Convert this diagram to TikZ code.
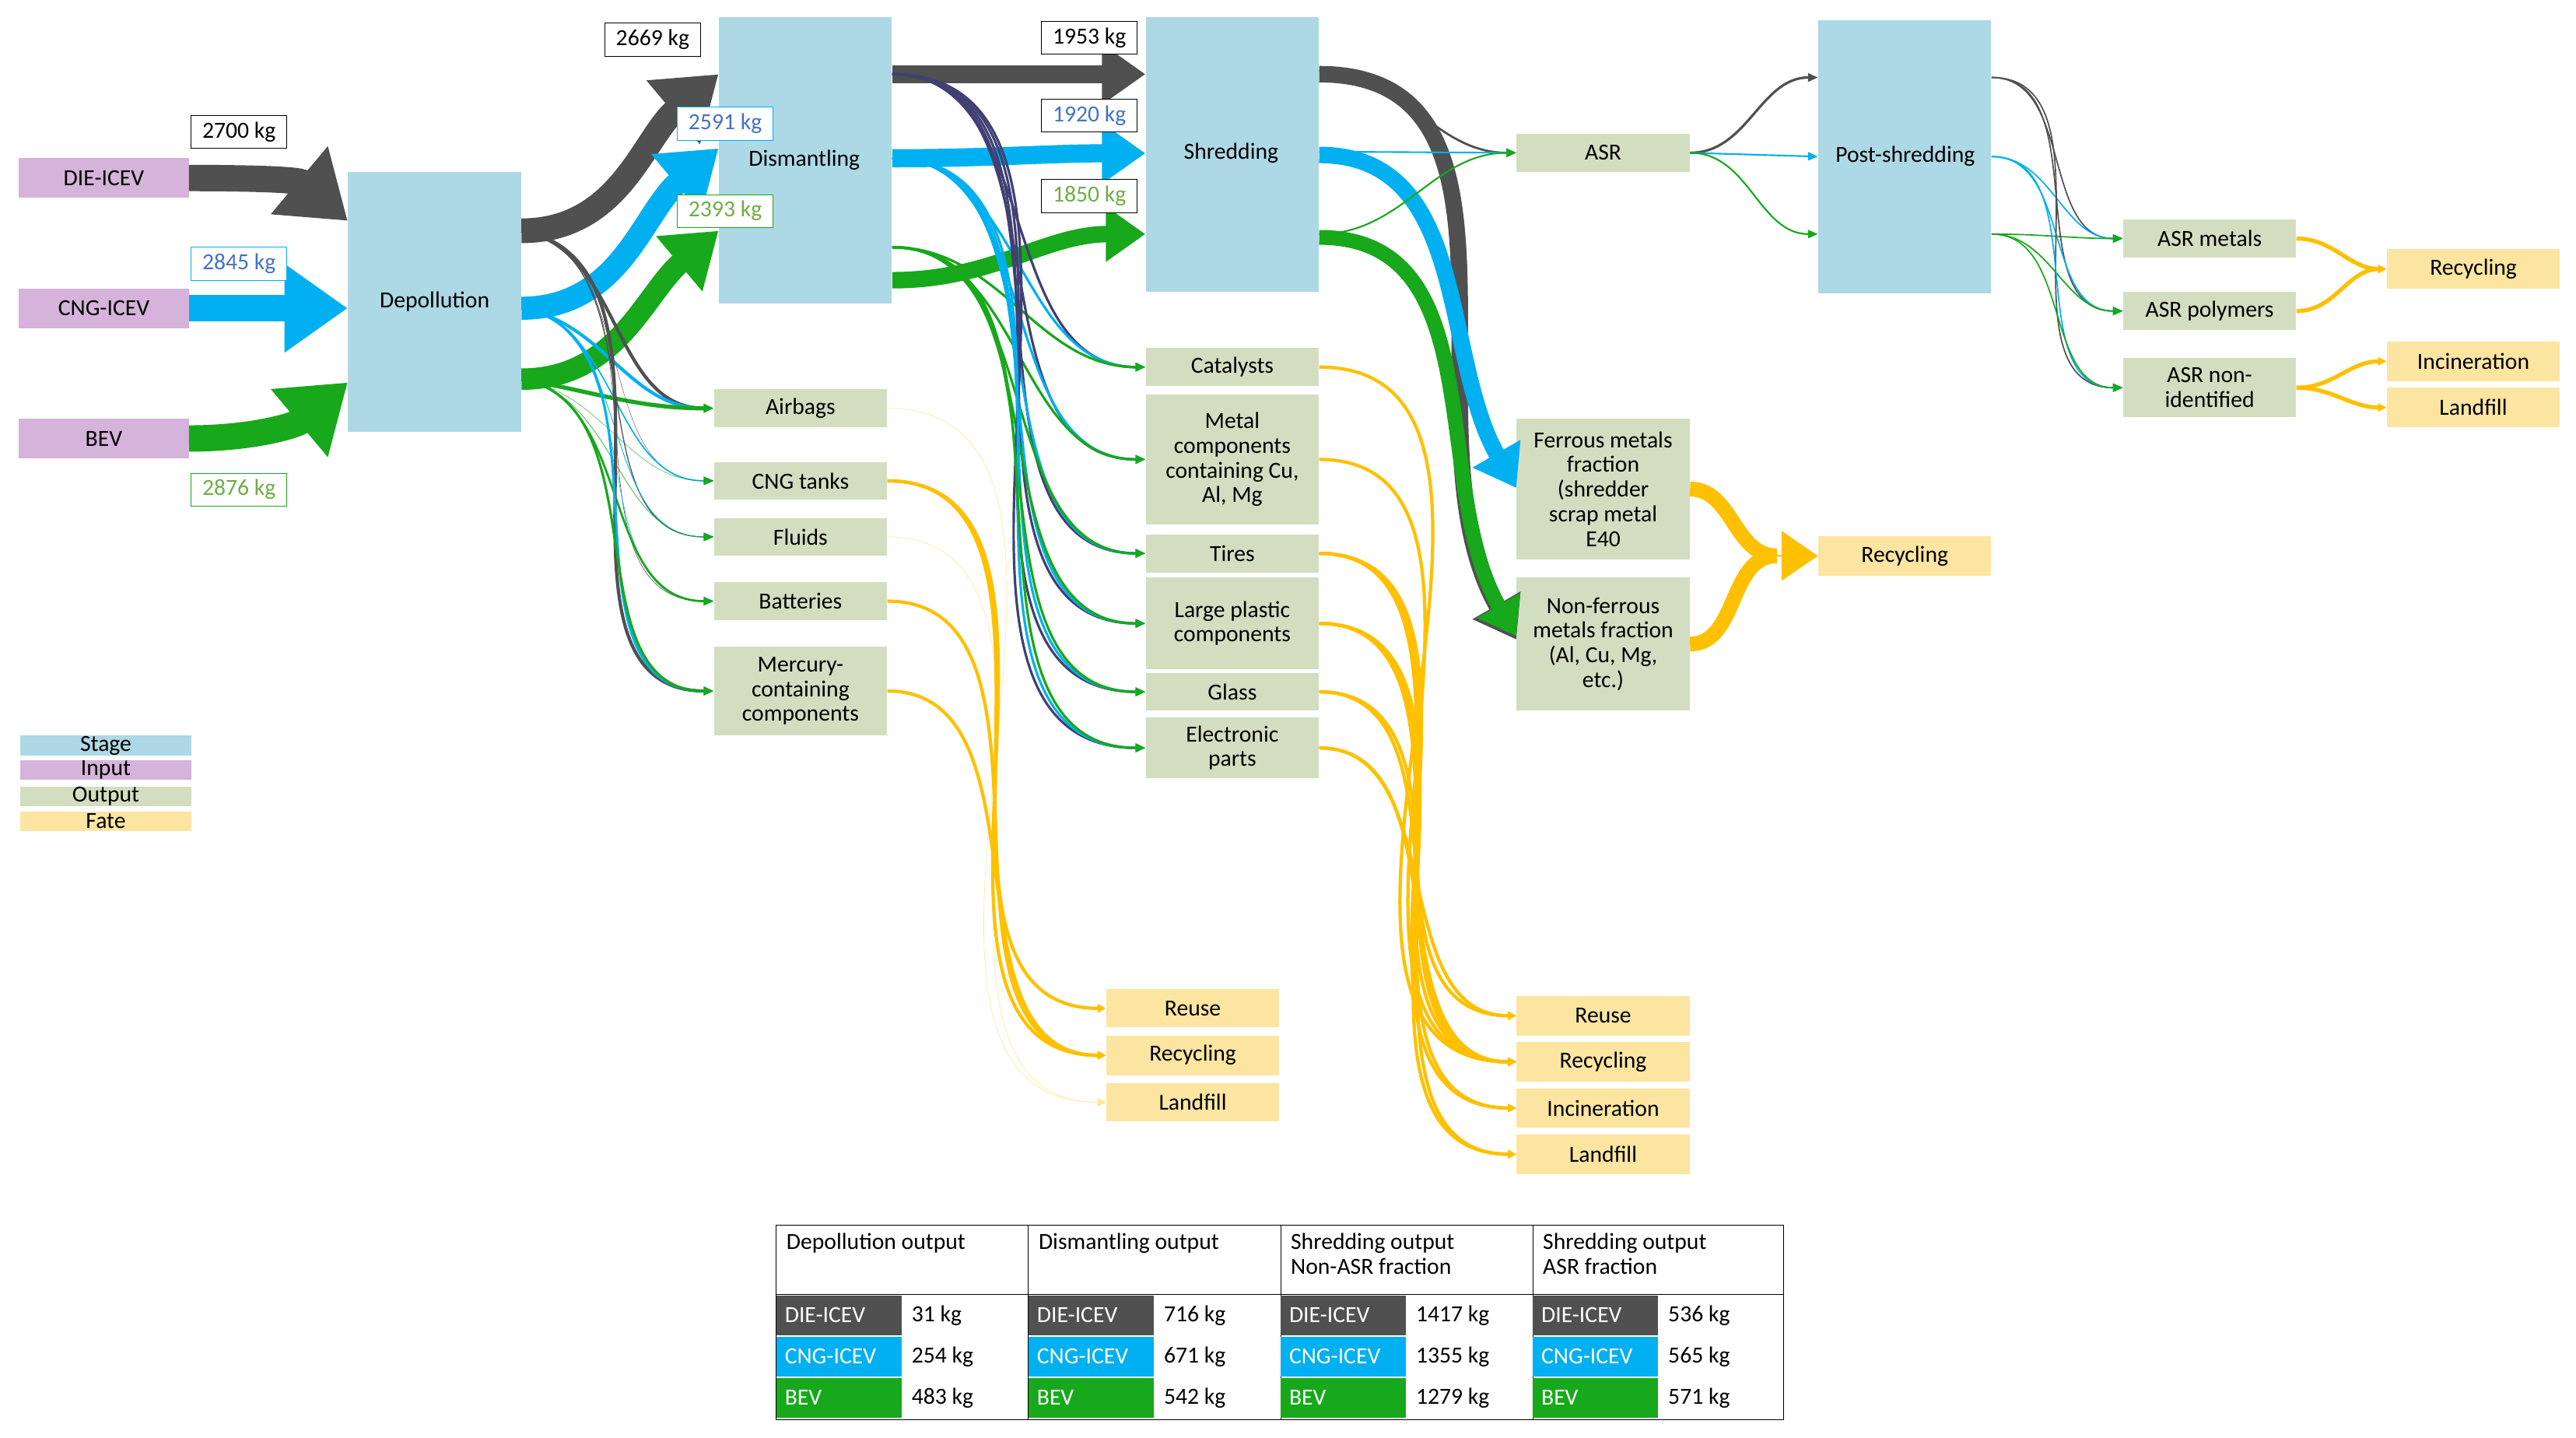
\documentclass[tikz,border=0pt]{standalone}
\usepackage{fontspec}
\setmainfont{Carlito}
\usetikzlibrary{arrows.meta}
\definecolor{cg}{HTML}{505050}
\definecolor{cb}{HTML}{00B0F0}
\definecolor{cgr}{HTML}{17A81B}
\definecolor{cy}{HTML}{FFC000}
\definecolor{stage}{HTML}{ADD8E6}
\definecolor{inp}{HTML}{D5B3DA}
\definecolor{outp}{HTML}{D3DEC0}
\definecolor{fate}{HTML}{FBE5A0}
\definecolor{tblue}{HTML}{4472C4}
\definecolor{tgreen}{HTML}{70AD47}
\begin{document}
\begin{tikzpicture}[x=1pt,y=-1pt,
  every node/.style={font=\fontsize{14}{15}\selectfont, inner sep=0pt, align=center},
  st/.style={fill=stage, minimum width=105, anchor=north west},
  ip/.style={fill=inp, minimum width=103, minimum height=24},
  ou/.style={fill=outp, minimum width=105, anchor=north west},
  fa/.style={fill=fate, minimum width=105, anchor=north west},
  lab/.style={draw, fill=white, minimum width=58, minimum height=20},
  big/.style={line width=#1, -{Triangle[length=2.4*#1, width=3.2*#1]}},
  th/.style={line width=#1, -{Triangle[length=6, width=5]}},
  yl/.style={cy, line width=#1, -{Triangle[length=5, width=5]}},
]
\useasboundingbox (0,0) rectangle (1563,872);
% stages
\node[st, minimum height=158] (dep) at (211,104) {Depollution};
\node[st, minimum height=174] (dis) at (436,10) {};
\node at (488,97) {Dismantling};
\node[st, minimum height=167] (shr) at (695,10) {};
\node at (747,93) {Shredding};
\node[st, minimum height=166] (post) at (1103,12) {};
\node at (1156,95) {Post-shredding};
% inputs
\node[ip] (die) at (63,108) {DIE-ICEV};
\node[ip] (cng) at (63,187) {CNG-ICEV};
\node[ip] (bev) at (63,266) {BEV};
% outputs
\node[ou, minimum height=23] (asr) at (920,81) {ASR};
\node[ou, minimum height=85] (fer) at (920,254) {Ferrous metals\\fraction\\(shredder\\scrap metal\\E40};
\node[ou, minimum height=81] (nfe) at (920,350) {Non-ferrous\\metals fraction\\(Al, Cu, Mg,\\etc.)};
\node[fa, minimum height=24] (recm) at (1103,325) {Recycling};
\node[ou, minimum height=23] (asrm) at (1288,133) {ASR metals};
\node[ou, minimum height=23] (asrp) at (1288,177) {ASR polymers};
\node[ou, minimum height=36] (asrn) at (1288,217) {ASR non-\\identified};
\node[fa, minimum height=24] (recr) at (1448,151) {Recycling};
\node[fa, minimum height=24] (incr) at (1448,207) {Incineration};
\node[fa, minimum height=24] (lanr) at (1448,235) {Landfill};
\node[ou, minimum height=23] (air) at (433,236) {Airbags};
\node[ou, minimum height=23] (tank) at (433,280) {CNG tanks};
\node[ou, minimum height=23] (flu) at (433,314) {Fluids};
\node[ou, minimum height=23] (bat) at (433,353) {Batteries};
\node[ou, minimum height=54] (mer) at (433,392) {Mercury-\\containing\\components};
\node[ou, minimum height=23] (cat) at (695,211) {Catalysts};
\node[ou, minimum height=79] (met) at (695,239) {Metal\\components\\containing Cu,\\Al, Mg};
\node[ou, minimum height=23] (tir) at (695,324) {Tires};
\node[ou, minimum height=56] (lpc) at (695,350) {Large plastic\\components};
\node[ou, minimum height=23] (gla) at (695,408) {Glass};
\node[ou, minimum height=37] (ele) at (695,435) {Electronic\\parts};
\node[fa, minimum height=23] (reuA) at (671,600) {Reuse};
\node[fa, minimum height=24] (recA) at (671,628) {Recycling};
\node[fa, minimum height=23] (lanA) at (671,657) {Landfill};
\node[fa, minimum height=24] (reuB) at (920,604) {Reuse};
\node[fa, minimum height=24] (recB) at (920,632) {Recycling};
\node[fa, minimum height=24] (incB) at (920,660) {Incineration};
\node[fa, minimum height=24] (lanB) at (920,688) {Landfill};
% legend
\node[fill=stage, minimum width=104, minimum height=12, anchor=north west] (lg1) at (12,446) {Stage};
\node[fill=inp, minimum width=104, minimum height=12, anchor=north west] (lg2) at (12,461) {Input};
\node[fill=outp, minimum width=104, minimum height=12, anchor=north west] (lg3) at (12,477) {Output};
\node[fill=fate, minimum width=104, minimum height=12, anchor=north west] (lg4) at (12,492) {Fate};
% big input arrows
\draw[cg, big=16] (die.east) to[out=0,in=140] ([yshift=-30]dep.north west);
\draw[cb, big=16] (cng.east) -- ([yshift=-83]dep.north west);
\draw[cgr, big=16] (bev.east) to[out=0,in=-140] ([yshift=-128]dep.north west);
% depollution -> dismantling
\draw[cg, big=15] ([yshift=-36]dep.north east) to[out=0,in=-140] ([yshift=-35]dis.north west);
\draw[cb, big=14] ([yshift=-83]dep.north east) to[out=0,in=-140] ([yshift=-80]dis.north west);
\draw[cgr, big=13] ([yshift=-126]dep.north east) to[out=0,in=-140] ([yshift=-130]dis.north west);
% dismantling -> shredding
\draw[cg, big=11] ([yshift=-35]dis.north east) -- ([yshift=-35]shr.north west);
\draw[cb, big=11] ([yshift=-86]dis.north east) to[out=0,in=180] ([yshift=-83]shr.north west);
\draw[cgr, big=10] ([yshift=-160]dis.north east) to[out=0,in=180] ([yshift=-132]shr.north west);
% shredding -> fractions
\draw[cg, big=10] ([yshift=-35]shr.north east) to[out=0,in=120] ([yshift=-38]nfe.north west);
\draw[cb, big=10] ([yshift=-84]shr.north east) to[out=0,in=120] ([yshift=-42]fer.north west);
\draw[cgr, big=9] ([yshift=-134]shr.north east) to[out=0,in=120] ([yshift=-36]nfe.north west);
\draw[cg, th=1.3] ([yshift=-33]shr.north east) to[out=0,in=180] (asr.west);
\draw[cb, th=1] ([yshift=-82]shr.north east) -- (asr.west);
\draw[cgr, th=1] ([yshift=-132]shr.north east) to[out=0,in=180] (asr.west);
% ASR -> post
\draw[cg, th=1.5] (asr.east) to[out=0,in=180] ([yshift=-35]post.north west);
\draw[cb, th=1] (asr.east) -- ([yshift=-83]post.north west);
\draw[cgr, th=1] (asr.east) to[out=0,in=180] ([yshift=-130]post.north west);
% post -> ASR outputs
\foreach \t in {asrm,asrp,asrn}{
  \draw[cg, th=0.8] ([yshift=-35]post.north east) to[out=0,in=180] (\t.west);
  \draw[cb, th=0.8] ([yshift=-83]post.north east) to[out=0,in=180] (\t.west);
  \draw[cgr, th=0.8] ([yshift=-130]post.north east) to[out=0,in=180] (\t.west);
}
\draw[yl=2.5] (asrm.east) to[out=0,in=180] (recr.west);
\draw[yl=2.5] (asrp.east) to[out=0,in=180] (recr.west);
\draw[yl=2.5] (asrn.east) to[out=0,in=180] (incr.west);
\draw[yl=2.5] (asrn.east) to[out=0,in=180] (lanr.west);
\draw[cy, line width=9] (fer.east) to[out=0,in=180] ([xshift=-25]recm.west);
\draw[cy, line width=9] (nfe.east) to[out=0,in=180] ([xshift=-25]recm.west);
\draw[cy, line width=1, -{Triangle[length=22,width=30]}] ([xshift=-26]recm.west) -- (recm.west);
% depollution -> outputs
\foreach \t/\a/\b/\c in {air/2/2/2.5, tank/0.2/0.8/0.2, flu/0.6/0.4/0.3, bat/0.3/0.3/1.3, mer/2/1.5/1.5}{
  \draw[cg, th=\a] ([yshift=-36]dep.north east) to[out=-10,in=180] (\t.west);
  \draw[cb, th=\b] ([yshift=-83]dep.north east) to[out=-10,in=180] (\t.west);
  \draw[cgr, th=\c] ([yshift=-126]dep.north east) to[out=-10,in=180] (\t.west);
}
% dismantling -> outputs
\foreach \t in {cat,met,tir,lpc,gla,ele}{
  \draw[cg!80!blue, th=1.5] ([yshift=-35]dis.north east) to[out=0,in=180] (\t.west);
  \draw[cb, th=1.5] ([yshift=-86]dis.north east) to[out=0,in=180] (\t.west);
  \draw[cgr, th=1.5] ([yshift=-140]dis.north east) to[out=0,in=180] (\t.west);
}
% outputs -> fates A
\draw[yl=0.3, cy!40] (air.east) to[out=0,in=180] (lanA.west);
\draw[yl=0.3, cy!40] (flu.east) to[out=0,in=180] (lanA.west);
\draw[yl=2] (tank.east) to[out=0,in=180] (reuA.west);
\draw[yl=2] (tank.east) to[out=0,in=180] (recA.west);
\draw[yl=2] (bat.east) to[out=0,in=180] (recA.west);
\draw[yl=2] (mer.east) to[out=0,in=180] (recA.west);
% outputs -> fates B
\foreach \s/\t in {cat/recB, met/recB, tir/reuB, tir/recB, tir/incB, lpc/recB, lpc/incB, lpc/lanB, gla/recB, gla/lanB, ele/reuB, ele/recB}{
  \draw[yl=2] (\s.east) to[out=0,in=180] (\t.west);
}
% mass labels
\node[lab] (l1) at (145,80) {2700 kg};
\node[lab, draw=cb, text=tblue] (l2) at (145,160) {2845 kg};
\node[lab, draw=cgr, text=tgreen] (l3) at (145,297) {2876 kg};
\node[lab] (l4) at (396,24) {2669 kg};
\node[lab, draw=cb, text=tblue] (l5) at (440,75) {2591 kg};
\node[lab, draw=cgr, text=tgreen] (l6) at (440,128) {2393 kg};
\node[lab] (l7) at (661,23) {1953 kg};
\node[lab, text=tblue] (l8) at (661,70) {1920 kg};
\node[lab, text=tgreen] (l9) at (661,119) {1850 kg};
% table
\draw (471,743) rectangle (1082,861);
\foreach \x/\h in {471/Depollution output, 624/Dismantling output, 777/Shredding output\\Non-ASR fraction, 930/Shredding output\\ASR fraction}{
  \draw (\x,743) -- (\x,861);
  \node[anchor=north west, align=left] at (\x+6,748) {\h};
}
\draw (471,785) -- (1082,785);
\foreach \x/\a/\b/\c in {471/31/254/483, 624/716/671/542, 777/1417/1355/1279, 930/536/565/571}{
  \fill[cg] (\x,786) rectangle (\x+76,810);
  \fill[cb] (\x,811) rectangle (\x+76,835);
  \fill[cgr] (\x,836) rectangle (\x+76,860);
  \node[anchor=west, text=white] at (\x+5,798) {DIE-ICEV};
  \node[anchor=west, text=white] at (\x+5,823) {CNG-ICEV};
  \node[anchor=west, text=white] at (\x+5,848) {BEV};
  \node[anchor=west] at (\x+82,798) {\a~kg};
  \node[anchor=west] at (\x+82,823) {\b~kg};
  \node[anchor=west] at (\x+82,848) {\c~kg};
}
\end{tikzpicture}
\end{document}
